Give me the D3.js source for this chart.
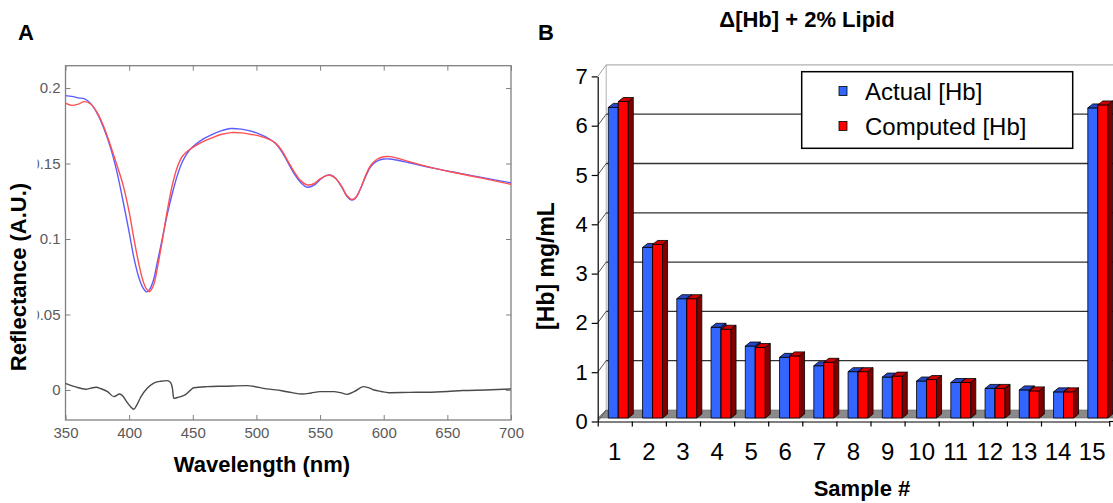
<!DOCTYPE html>
<html><head><meta charset="utf-8">
<script src="https://cdn.jsdelivr.net/npm/d3@7"></script>
<style>body{margin:0;background:#fff}svg{display:block;font-family:"Liberation Sans",Arial,sans-serif}</style>
</head><body><svg id="c" width="1113" height="503"></svg>
<script>
// ---------- Panel A data ----------
const wavelengths = [350,355,360,365,370,375,380,385,390,395,400,404,408,411,413.5,416,419,422,426,430,434,438,442,447,452,458,465,472,480,488,495,502,510,515,520,525,530,535,540,545,550,555,558,562,567,571,575,578,582,586,590,595,600,605,610,620,640,660,680,700];
const measuredReflectance = [0.195,0.1945,0.1935,0.1928,0.1895,0.183,0.1735,0.1615,0.146,0.126,0.1045,
  0.0865,0.0735,0.0675,0.065,0.0665,0.0725,0.084,0.100,0.1165,
  0.1305,0.1425,0.1515,0.1585,0.1625,0.1662,0.1692,0.1716,0.1732,0.1728,
  0.1716,0.1696,0.1664,0.1632,0.1578,0.1502,0.1428,0.1372,0.1343,0.1355,
  0.1393,0.1421,0.1424,0.1404,0.1345,0.1283,0.1258,0.1272,0.1338,0.1418,
  0.1482,0.1518,0.1530,0.1530,0.1523,0.1505,0.1468,0.1435,0.1403,0.1372];
const fittedReflectance = [0.1900,0.1885,0.1893,0.1910,0.1893,0.1835,0.1745,0.1628,0.1500,0.1365,0.1180,
  0.0990,0.0820,0.0720,0.0670,0.0652,0.0690,0.0800,0.0990,0.1190,
  0.1360,0.1480,0.1550,0.1590,0.1617,0.1645,0.1670,0.1692,0.1705,0.1703,
  0.1694,0.1683,0.1660,0.1635,0.1585,0.1512,0.1440,0.1385,0.1358,0.1366,
  0.1398,0.1420,0.1422,0.1402,0.1348,0.1288,0.1262,0.1275,0.1338,0.1425,
  0.1490,0.1530,0.1545,0.1546,0.1537,0.1513,0.1468,0.1432,0.1398,0.1362];
const residualWavelengths = [350,358,366,370,374,378,383,388,392.5,395,398,401,403.7,406,409.3,414,419,425,430,432.5,434,435,438,444,451,461,475,492,508,520,528,536,543,550,561,566,571.4,577,584,588,592.4,598,604,620,634,650,662,680,700];
const residualValues = [0.0044,0.0020,0.0005,0.0012,0.0018,0.0008,-0.0011,-0.0044,-0.0027,-0.0040,
  -0.0077,-0.0110,-0.0128,-0.0100,-0.0044,0.0010,0.0044,0.0058,0.0062,0.0050,
  0.0010,-0.0055,-0.0050,-0.0033,0.0015,0.0022,0.0025,0.0029,0.0007,-0.0005,
  -0.0018,-0.0027,-0.0020,-0.0011,-0.0011,-0.0018,-0.0029,-0.0010,0.0022,0.0015,
  0.0000,-0.0010,-0.0018,-0.0016,-0.0015,-0.0010,-0.0004,0.0000,0.0007];
const xTicksA = [350,400,450,500,550,600,650,700];
const yTicksA = [0,0.05,0.1,0.15,0.2];
const yTickLabelsA = ["0","0.05","0.1","0.15","0.2"];

// ---------- Panel B data ----------
const samples = [1,2,3,4,5,6,7,8,9,10,11,12,13,14,15];
const actualHb =   [6.30,3.46,2.42,1.84,1.46,1.23,1.06,0.94,0.83,0.75,0.72,0.60,0.57,0.53,6.29];
const computedHb = [6.42,3.52,2.42,1.80,1.43,1.26,1.13,0.94,0.85,0.78,0.72,0.60,0.55,0.53,6.35];
const yTicksB = [0,1,2,3,4,5,6,7];
const seriesNames = ["Actual [Hb]","Computed [Hb]"];

const svg = d3.select("#c");

// ================= Panel A =================
const A = {l:65.5, r:511, t:65.7, b:420};
const xA = d3.scaleLinear().domain([350,700]).range([A.l, A.r]);
const yA = d3.scaleLinear().domain([-0.0199,0.2148]).range([A.b, A.t]);
const gA = svg.append("g");
const boxCol = "#808080", tickTxt = "#5a5a5a";

function styleAxis(g){ g.select(".domain").remove(); g.selectAll("line").attr("stroke",boxCol).attr("stroke-width",1);
  g.selectAll("text").attr("fill",tickTxt).style("font-size","15px").style("font-family","'Liberation Sans',Arial,sans-serif"); }

gA.append("g").attr("transform",`translate(0,${A.b})`)
  .call(d3.axisBottom(xA).tickValues(xTicksA).tickSizeInner(-5).tickSizeOuter(0).tickPadding(7).tickFormat(d3.format("d")))
  .call(styleAxis);
gA.append("g").attr("transform",`translate(0,${A.t})`)
  .call(d3.axisTop(xA).tickValues(xTicksA).tickSizeInner(-5).tickSizeOuter(0).tickFormat(""))
  .call(styleAxis);
gA.append("g").attr("transform",`translate(${A.r},0)`)
  .call(d3.axisRight(yA).tickValues(yTicksA).tickSizeInner(-5).tickSizeOuter(0).tickFormat(""))
  .call(styleAxis);
svg.append("clipPath").attr("id","clipL").append("rect").attr("x",37.5).attr("y",0).attr("width",100).attr("height",503);
gA.append("g").attr("clip-path","url(#clipL)").append("g").attr("transform",`translate(${A.l},0)`)
  .call(d3.axisLeft(yA).tickValues(yTicksA).tickSizeInner(-5).tickSizeOuter(0).tickPadding(5).tickFormat((d,i)=>yTickLabelsA[i]))
  .call(styleAxis);
gA.append("rect").attr("x",A.l).attr("y",A.t).attr("width",A.r-A.l).attr("height",A.b-A.t)
  .attr("fill","none").attr("stroke",boxCol).attr("stroke-width",1.3);

const lineA = d3.line().x((d,i)=>xA(wavelengths[i])).y(d=>yA(d)).curve(d3.curveCatmullRom.alpha(0.5));
gA.append("path").attr("d",lineA(measuredReflectance)).attr("fill","none").attr("stroke","#5c5cff").attr("stroke-width",1.4);
gA.append("path").attr("d",lineA(fittedReflectance)).attr("fill","none").attr("stroke","#ff4f4f").attr("stroke-width",1.4);
const lineR = d3.line().x((d,i)=>xA(residualWavelengths[i])).y(d=>yA(d)).curve(d3.curveMonotoneX);
gA.append("path").attr("d",lineR(residualValues)).attr("fill","none").attr("stroke","#4a4a4a").attr("stroke-width",1.4);

gA.append("text").attr("x",18).attr("y",40).text("A").style("font-size","22px").style("font-weight","bold");
gA.append("text").attr("x",262).attr("y",472).attr("text-anchor","middle")
  .text("Wavelength (nm)").style("font-size","22px").style("font-weight","bold");
gA.append("text").attr("transform","translate(26,277) rotate(-90)").attr("text-anchor","middle")
  .text("Reflectance (A.U.)").style("font-size","22px").style("font-weight","bold");

// ================= Panel B =================
const ax0 = 597.7, axY0 = 421.5, base = 418, k = 49.3;
const wall = {dx:8.5, dy:-8};
const bar = {w:10, dx:5, dy:-4};
const yFront = d3.scaleLinear().domain([0,7]).range([base, base-7*k]);
const yAxisB = d3.scaleLinear().domain([0,7]).range([axY0, axY0-7*k]);
const yBack = d3.scaleLinear().domain([0,7]).range([base+wall.dy, base+wall.dy-7*k]);
const xBand = d3.scaleBand().domain(samples).range([ax0, ax0+15*34.1]);
const xBars = d3.scaleBand().domain(samples).range([ax0+10.6, ax0+10.6+15*34.25]);
const xBound = d3.scaleLinear().domain([0,15]).range([ax0, ax0+15*34.1]);
const gB = svg.append("g");
const W = 1113;

// floor
gB.append("polygon").attr("points",[[ax0,base],[W+5,base],[W+5,yBack(0)],[ax0+wall.dx,yBack(0)]].join(" "))
  .attr("fill","#8a8a8a").attr("stroke","#666").attr("stroke-width",0.6);
// back wall frame
gB.append("line").attr("x1",ax0+wall.dx).attr("x2",W).attr("y1",yBack(7)).attr("y2",yBack(7)).attr("stroke","#b0b0b0").attr("stroke-width",1.2);
gB.append("line").attr("x1",ax0+wall.dx).attr("x2",ax0+wall.dx).attr("y1",yBack(7)).attr("y2",yBack(0)).attr("stroke","#b0b0b0").attr("stroke-width",1);
// wall diagonals at ticks
gB.selectAll(".diag").data(yTicksB).join("line").attr("class","diag")
  .attr("x1",ax0).attr("y1",d=>yAxisB(d)).attr("x2",ax0+wall.dx).attr("y2",d=>yBack(d))
  .attr("stroke",d=>d===7?"#a0a0a0":"#555").attr("stroke-width",1);
// gridlines
gB.selectAll(".grid").data(yTicksB.filter(d=>d>0&&d<7)).join("line").attr("class","grid")
  .attr("x1",ax0+wall.dx).attr("x2",W).attr("y1",d=>yBack(d)).attr("y2",d=>yBack(d))
  .attr("stroke","#333").attr("stroke-width",1.3);

// bars
const colors = [
  {front:"#3366ff", top:"#2447c8", side:"#1a3399"},
  {front:"#ff0000", top:"#cc0000", side:"#800000"}
];
const series = [actualHb, computedHb];
samples.forEach((s,i)=>{
  series.forEach((vals,j)=>{
    const x = xBars(s) + j*bar.w, y = yFront(vals[i]), y0 = yFront(0), c = colors[j];
    const g = gB.append("g").attr("stroke","#000").attr("stroke-width",0.8).attr("stroke-linejoin","round");
    g.append("polygon").attr("points",[[x,y],[x+bar.w,y],[x+bar.w,y0],[x,y0]].join(" ")).attr("fill",c.front);
    g.append("polygon").attr("points",[[x,y],[x+bar.w,y],[x+bar.w+bar.dx,y+bar.dy],[x+bar.dx,y+bar.dy]].join(" ")).attr("fill",c.top);
    g.append("polygon").attr("points",[[x+bar.w,y],[x+bar.w+bar.dx,y+bar.dy],[x+bar.w+bar.dx,y0+bar.dy],[x+bar.w,y0]].join(" ")).attr("fill",c.side);
  });
});

// axes
const tickFont = g=>g.selectAll("text").attr("fill","#000").style("font-size","22px").style("font-family","'Liberation Sans',Arial,sans-serif");
gB.append("g").attr("transform",`translate(${ax0},0)`)
  .call(d3.axisLeft(yAxisB).tickValues(yTicksB).tickSizeInner(6).tickSizeOuter(0).tickPadding(4).tickFormat(d3.format("d")))
  .call(g=>{g.selectAll("line,path").attr("stroke","#000").attr("stroke-width",1.2);}).call(tickFont);
gB.append("g").attr("transform",`translate(0,${axY0})`)
  .call(d3.axisBottom(xBound).tickValues(d3.range(0,16)).tickSizeInner(5).tickSizeOuter(0).tickFormat(""))
  .call(g=>{g.selectAll("line,path").attr("stroke","#000").attr("stroke-width",1.2);});
gB.append("line").attr("x1",xBound(15)).attr("x2",W).attr("y1",axY0).attr("y2",axY0).attr("stroke","#000").attr("stroke-width",1.2);
gB.append("g").attr("transform",`translate(0,${axY0})`)
  .call(d3.axisBottom(xBand).tickSize(0).tickPadding(21))
  .call(g=>g.select(".domain").remove())
  .call(g=>g.selectAll("text").attr("fill","#000").style("font-size","24px").style("font-family","'Liberation Sans',Arial,sans-serif"));

// legend
const lg = gB.append("g");
lg.append("rect").attr("x",801.7).attr("y",71.7).attr("width",271).attr("height",76.6).attr("fill","#fff").attr("stroke","#000").attr("stroke-width",1.5);
seriesNames.forEach((n,j)=>{
  lg.append("rect").attr("x",839).attr("y",86.5+j*35).attr("width",8).attr("height",9).attr("fill",colors[j].front).attr("stroke","#000").attr("stroke-width",0.8);
  lg.append("text").attr("x",865).attr("y",100+j*35).text(n).style("font-size","24px").attr("fill","#000");
});

// titles
gB.append("text").attr("x",538).attr("y",40).text("B").style("font-size","22px").style("font-weight","bold");
gB.append("text").attr("x",807).attr("y",27).attr("text-anchor","middle")
  .text("Δ[Hb] + 2% Lipid").style("font-size","22px").style("font-weight","bold");
gB.append("text").attr("x",862).attr("y",496).attr("text-anchor","middle").text("Sample #").style("font-size","22px").style("font-weight","bold");
gB.append("text").attr("transform","translate(554,266) rotate(-90)").attr("text-anchor","middle").text("[Hb] mg/mL").style("font-size","23px").style("font-weight","bold");
</script></body></html>
